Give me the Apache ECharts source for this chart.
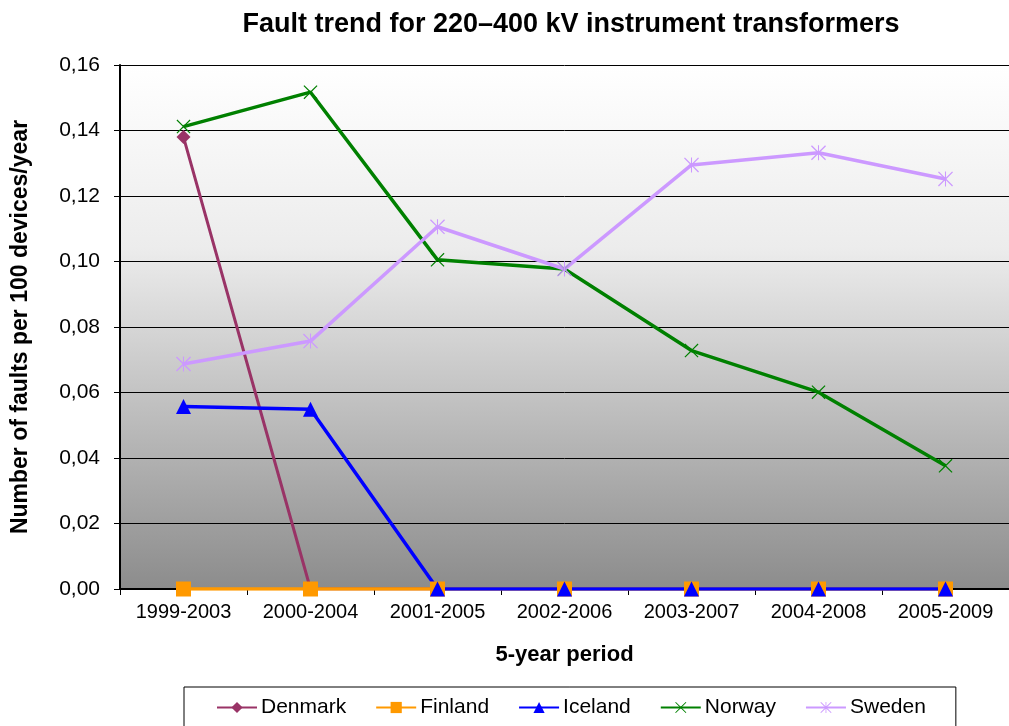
<!DOCTYPE html>
<html>
<head>
<meta charset="utf-8">
<title>Fault trend for 220–400 kV instrument transformers</title>
<script src="https://cdn.jsdelivr.net/npm/echarts@6/dist/echarts.min.js"></script>
<style>
  html, body { margin: 0; padding: 0; background: #fff; }
  #chart { width: 1009px; height: 726px; }
</style>
</head>
<body>
<div id="chart"></div>
<script>
// periods on the x axis
const periods = ['1999-2003', '2000-2004', '2001-2005', '2002-2006', '2003-2007', '2004-2008', '2005-2009'];

// faults per 100 devices per year
const denmark = [0.138, 0, 0, 0, 0, 0, 0];
const finland = [0, 0, 0, 0, 0, 0, 0];
const iceland = [0.0557, 0.0549, 0, 0, 0, 0, 0];
const norway = [0.1412, 0.1517, 0.1005, 0.0977, 0.0728, 0.0601, 0.0376];
const sweden = [0.0687, 0.0757, 0.1106, 0.0977, 0.1295, 0.1332, 0.1252];

const yTicks = { min: 0, max: 0.16, step: 0.02 };

// Excel style marker shapes
const xMark = 'path://M0,1.2L1.2,0L10,8.8L18.8,0L20,1.2L11.2,10L20,18.8L18.8,20L10,11.2L1.2,20L0,18.8L8.8,10Z';
const starMark = 'path://M0,1.2L1.2,0L10,8.8L18.8,0L20,1.2L11.2,10L20,18.8L18.8,20L10,11.2L1.2,20L0,18.8L8.8,10Z' +
    'M9.3,0L10.7,0L10.7,20L9.3,20Z';

const font = 'Liberation Sans, Arial, sans-serif';

function makeSeries(name, data, color, symbol, size, width) {
    return {
        name: name,
        type: 'line',
        data: data,
        symbol: symbol,
        symbolSize: size,
        showAllSymbol: true,
        itemStyle: { color: color },
        lineStyle: { color: color, width: width },
        emphasis: { disabled: true },
        animation: false
    };
}

const chart = echarts.init(document.getElementById('chart'));

chart.setOption({
    backgroundColor: '#fff',
    title: {
        text: 'Fault trend for 220–400 kV instrument transformers',
        left: 566,
        textAlign: 'center',
        top: 6,
        textStyle: { fontFamily: font, fontSize: 27, fontWeight: 'bold', color: '#000' }
    },
    legend: {
        left: 184,
        top: 687,
        padding: [10, 30, 20, 32],
        itemGap: 29,
        itemWidth: 40,
        itemHeight: 14,
        borderColor: '#000',
        borderWidth: 1,
        backgroundColor: '#fff',
        textStyle: { fontFamily: font, fontSize: 21, color: '#000', padding: [0, 0, 0, -1] },
        data: ['Denmark', 'Finland', 'Iceland', 'Norway', 'Sweden']
    },
    grid: {
        left: 120,
        top: 65,
        width: 892,
        height: 524,
        show: true,
        borderWidth: 0,
        backgroundColor: new echarts.graphic.LinearGradient(0, 0, 0, 1, [
            { offset: 0, color: '#ffffff' },
            { offset: 0.35, color: '#ececec' },
            { offset: 1, color: '#8c8c8c' }
        ])
    },
    xAxis: {
        type: 'category',
        data: periods,
        boundaryGap: true,
        name: '5-year period',
        nameLocation: 'middle',
        nameGap: 55,
        nameTextStyle: { fontFamily: font, fontSize: 22, fontWeight: 'bold', color: '#000' },
        axisLine: { lineStyle: { color: '#000', width: 2 } },
        axisTick: { show: true, interval: 0, alignWithLabel: false, length: 6, lineStyle: { color: '#000' } },
        axisLabel: { fontFamily: font, fontSize: 20, color: '#000', margin: 13, interval: 0, hideOverlap: false },
        splitLine: { show: false }
    },
    yAxis: {
        type: 'value',
        min: yTicks.min,
        max: yTicks.max,
        interval: yTicks.step,
        name: 'Number of faults per 100 devices/year',
        nameLocation: 'middle',
        nameGap: 88,
        nameTextStyle: { fontFamily: font, fontSize: 23, fontWeight: 'bold', color: '#000' },
        axisLine: { show: true, lineStyle: { color: '#000', width: 2 } },
        axisTick: { show: true, length: 6, lineStyle: { color: '#000' } },
        axisLabel: {
            fontFamily: font,
            fontSize: 21,
            color: '#000',
            margin: 20,
            formatter: v => v.toFixed(2).replace('.', ',')
        },
        splitLine: { show: true, lineStyle: { color: '#000', width: 1 } }
    },
    series: [
        makeSeries('Denmark', denmark, '#993366', 'diamond', 14, 3),
        makeSeries('Finland', finland, '#FF9900', 'rect', 15, 3.5),
        makeSeries('Iceland', iceland, '#0000FF', 'triangle', 15, 3.5),
        makeSeries('Norway', norway, '#008000', xMark, 14, 3.5),
        makeSeries('Sweden', sweden, '#CC99FF', starMark, 15, 3.5)
    ]
});
</script>
</body>
</html>
